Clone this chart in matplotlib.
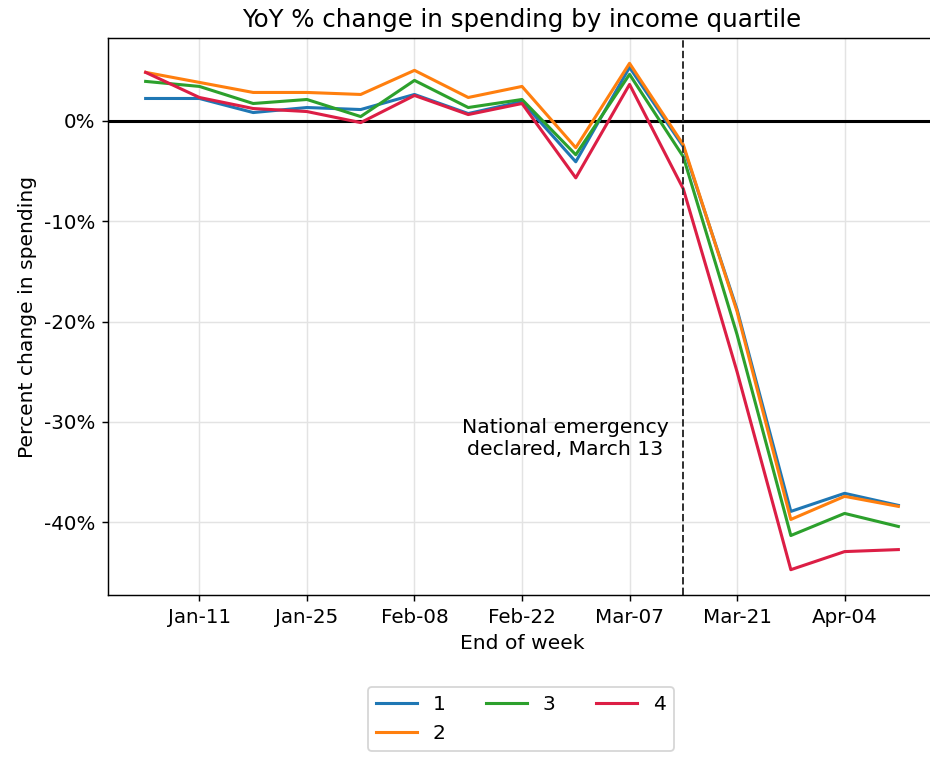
import matplotlib
matplotlib.use("Agg")
import matplotlib.pyplot as plt
import matplotlib.dates as mdates
from matplotlib.ticker import FuncFormatter
import pandas as pd

# Week-ending dates and YoY % change in spending by income quartile
week_end = ["2020-01-04", "2020-01-11", "2020-01-18", "2020-01-25", "2020-02-01",
            "2020-02-08", "2020-02-15", "2020-02-22", "2020-02-29", "2020-03-07",
            "2020-03-14", "2020-03-21", "2020-03-28", "2020-04-04", "2020-04-11"]
quartile_1 = [2.2, 2.2, 0.8, 1.3, 1.1, 2.6, 0.7, 1.9, -4.1, 5.3, -2.6, -18.8, -38.9, -37.1, -38.3]
quartile_2 = [4.8, 3.8, 2.8, 2.8, 2.6, 5.0, 2.3, 3.4, -2.7, 5.7, -2.4, -19.0, -39.7, -37.4, -38.4]
quartile_3 = [3.9, 3.4, 1.7, 2.1, 0.4, 4.0, 1.3, 2.1, -3.4, 4.6, -3.6, -21.3, -41.3, -39.1, -40.4]
quartile_4 = [4.8, 2.3, 1.2, 0.9, -0.2, 2.5, 0.6, 1.7, -5.7, 3.6, -6.8, -25.0, -44.7, -42.9, -42.7]
series_labels = ["1", "2", "3", "4"]

tick_dates = ["2020-01-11", "2020-01-25", "2020-02-08", "2020-02-22",
              "2020-03-07", "2020-03-21", "2020-04-04"]
emergency_date = "2020-03-14"

dates = pd.to_datetime(week_end)
colors = ["tab:blue", "tab:orange", "tab:green", "#dc1e45"]

DPI = 130
plt.rcParams.update({
    "font.size": 11.2,
    "xtick.labelsize": 11,
    "ytick.labelsize": 11,
    "axes.titlesize": 13.6,
    "axes.labelsize": 11.2,
    "legend.fontsize": 11.2,
})
fig = plt.figure(figsize=(930 / DPI, 757 / DPI), dpi=DPI)
W, H = 930, 757
ax = fig.add_axes([108 / W, 1 - 595 / H, (936 - 108) / W, (595 - 38) / H])

for vals, lab, col in zip([quartile_1, quartile_2, quartile_3, quartile_4],
                          series_labels, colors):
    ax.plot(dates, vals, color=col, lw=1.7, label=lab)

ax.axhline(0, color="black", lw=1.7, zorder=1)
ax.axvline(pd.Timestamp(emergency_date), color="#333333", ls="--", lw=1.1)
ax.annotate("National emergency\ndeclared, March 13",
            xy=(mdates.date2num(pd.Timestamp(emergency_date)), -31.6),
            xytext=(-8, 0), textcoords="offset points",
            ha="right", va="center", multialignment="center", fontsize=11.3)

ax.set_xticks(pd.to_datetime(tick_dates))
ax.xaxis.set_major_formatter(mdates.DateFormatter("%b-%d"))
ax.yaxis.set_major_formatter(FuncFormatter(lambda v, p: f"{v:.0f}%"))
ax.grid(True, color="#e3e3e3", lw=0.8)
ax.set_axisbelow(True)

ax.set_title("YoY % change in spending by income quartile")
ax.set_xlabel("End of week")
ax.set_ylabel("Percent change in spending")
ax.legend(loc="upper center", bbox_to_anchor=((521 - 108) / (936 - 108), -0.147),
          ncol=3, frameon=True)

fig.savefig("out.png", dpi=DPI)
